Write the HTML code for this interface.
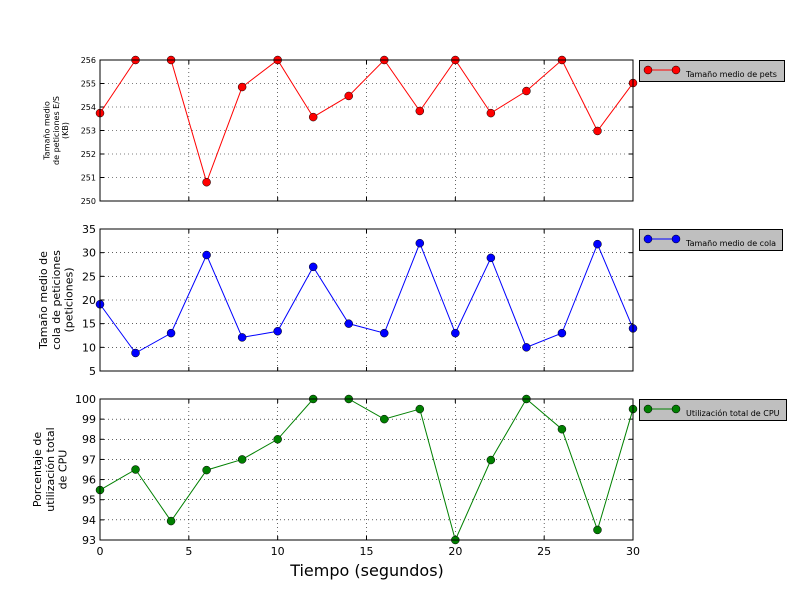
<!DOCTYPE html>
<html><head><meta charset="utf-8"><style>body{margin:0;background:#fff}svg{display:block;font-family:"DejaVu Sans","Liberation Sans",sans-serif}</style></head>
<body>
<svg id="c" width="800" height="600"></svg>
<script>
const xValues=[0,2,4,6,8,10,12,14,16,18,20,22,24,26,28,30];
const pktSize=[253.74,256,256,250.8,254.85,256,253.57,254.47,256,253.83,256,253.74,254.68,256,252.98,255.02];
const queueSize=[19.1,8.8,13,29.5,12.1,13.4,27,15,13,32,13,28.9,10,13,31.8,14];
const cpuUtil=[95.48,96.5,93.94,96.47,97.0,98.0,100,100,99,99.5,93,96.97,100,98.5,93.5,99.5];
const xTicks=[0,5,10,15,20,25,30];
const ticks1=[250,251,252,253,254,255,256];
const ticks2=[5,10,15,20,25,30,35];
const ticks3=[93,94,95,96,97,98,99,100];
const NS="http://www.w3.org/2000/svg";
const svg=document.getElementById('c');
function mk(t,a,p){const e=document.createElementNS(NS,t);for(const k in a)e.setAttribute(k,a[k]);(p||svg).appendChild(e);return e;}
const X0=100,X1=633;
const xs=v=>X0+(v-0)/30*(X1-X0);
const panels=[
 {top:60,bot:201,min:250,max:256,ticks:ticks1,data:pktSize,color:'#ff0000',fs:8,label:['Tamaño medio','de peticiones E/S','(KB)'],lfs:8,lx:56,name:'packet-size',leg:'Tamaño medio de pets',lw:145},
 {top:229,bot:371,min:5,max:35,ticks:ticks2,data:queueSize,color:'#0000ff',fs:11,label:['Tamaño medio de','cola de peticiones','(peticiones)'],lfs:11,lx:56,name:'queue-size',leg:'Tamaño medio de cola',lw:143},
 {top:399,bot:540,min:93,max:100,ticks:ticks3,data:cpuUtil,color:'#008000',fs:11,label:['Porcentaje de','utilización total','de CPU'],lfs:11,lx:50,name:'cpu-util',leg:'Utilización total de CPU',lw:147}
];
panels.forEach((p,pi)=>{
 const g=mk('g',{});
 
 
 const ys=v=>p.bot-(v-p.min)/(p.max-p.min)*(p.bot-p.top);
 mk('rect',{x:X0,y:p.top,width:X1-X0,height:p.bot-p.top,fill:'#fff'},g);
 xTicks.forEach(t=>{const x=xs(t);
  if(t>0&&t<30){const l=mk('line',{x1:x,x2:x,y1:p.top,y2:p.bot,stroke:'#000','stroke-dasharray':'1,3','stroke-width':0.6},g);}
  mk('line',{x1:x,x2:x,y1:p.bot,y2:p.bot-4,stroke:'#000'},g);mk('line',{x1:x,x2:x,y1:p.top,y2:p.top+4,stroke:'#000'},g);
  if(pi==2){const tx=mk('text',{x:x,y:p.bot+15,'font-size':11,'text-anchor':'middle'},g);tx.textContent=t;}
 });
 p.ticks.forEach(t=>{const y=ys(t);
  if(t>p.min&&t<p.max){const l=mk('line',{x1:X0,x2:X1,y1:y,y2:y,stroke:'#000','stroke-dasharray':'1,3','stroke-width':0.6},g);}
  mk('line',{x1:X0,x2:X0+4,y1:y,y2:y,stroke:'#000'},g);mk('line',{x1:X1,x2:X1-4,y1:y,y2:y,stroke:'#000'},g);
  const tx=mk('text',{x:X0-4,y:y+p.fs*0.36,'font-size':p.fs,'text-anchor':'end'},g);tx.textContent=t;
 });
 const cy=(p.top+p.bot)/2;
 const lab=mk('text',{transform:`translate(${p.lx},${cy}) rotate(-90)`,'font-size':p.lfs,'text-anchor':'middle'},g);
 
 p.label.forEach((s,i)=>{const ts=mk('tspan',{x:0,y:(i-1)*p.lfs*1.15+p.lfs*0.35},lab);ts.textContent=s;});
 const pts=xValues.map((v,i)=>xs(v)+','+ys(p.data[i])).join(' ');
 const line=mk('polyline',{points:pts,fill:'none',stroke:p.color,'stroke-width':1},g);
 
 xValues.forEach((v,i)=>{const c=mk('circle',{cx:xs(v),cy:ys(p.data[i]),r:4,fill:p.color,stroke:'#000','stroke-width':0.5},g);
  });
 mk('rect',{x:X0,y:p.top,width:X1-X0,height:p.bot-p.top,fill:'none',stroke:'#000','stroke-width':1},g);
 const lg=mk('g',{},g);
 mk('rect',{x:639.5,y:p.top+0.5,width:p.lw,height:21,fill:'#bfbfbf',stroke:'#000'},lg);
 mk('line',{x1:648,x2:676,y1:p.top+10,y2:p.top+10,stroke:p.color},lg);
 mk('circle',{cx:648,cy:p.top+10,r:4,fill:p.color,stroke:'#000','stroke-width':0.5},lg);
 mk('circle',{cx:676,cy:p.top+10,r:4,fill:p.color,stroke:'#000','stroke-width':0.5},lg);
 const lt=mk('text',{x:686,y:p.top+17,'font-size':8},lg);lt.textContent=p.leg;
});
const xt=mk('text',{x:367,y:576,'font-size':16,'text-anchor':'middle'});xt.textContent='Tiempo (segundos)';

</script>
</body></html>
